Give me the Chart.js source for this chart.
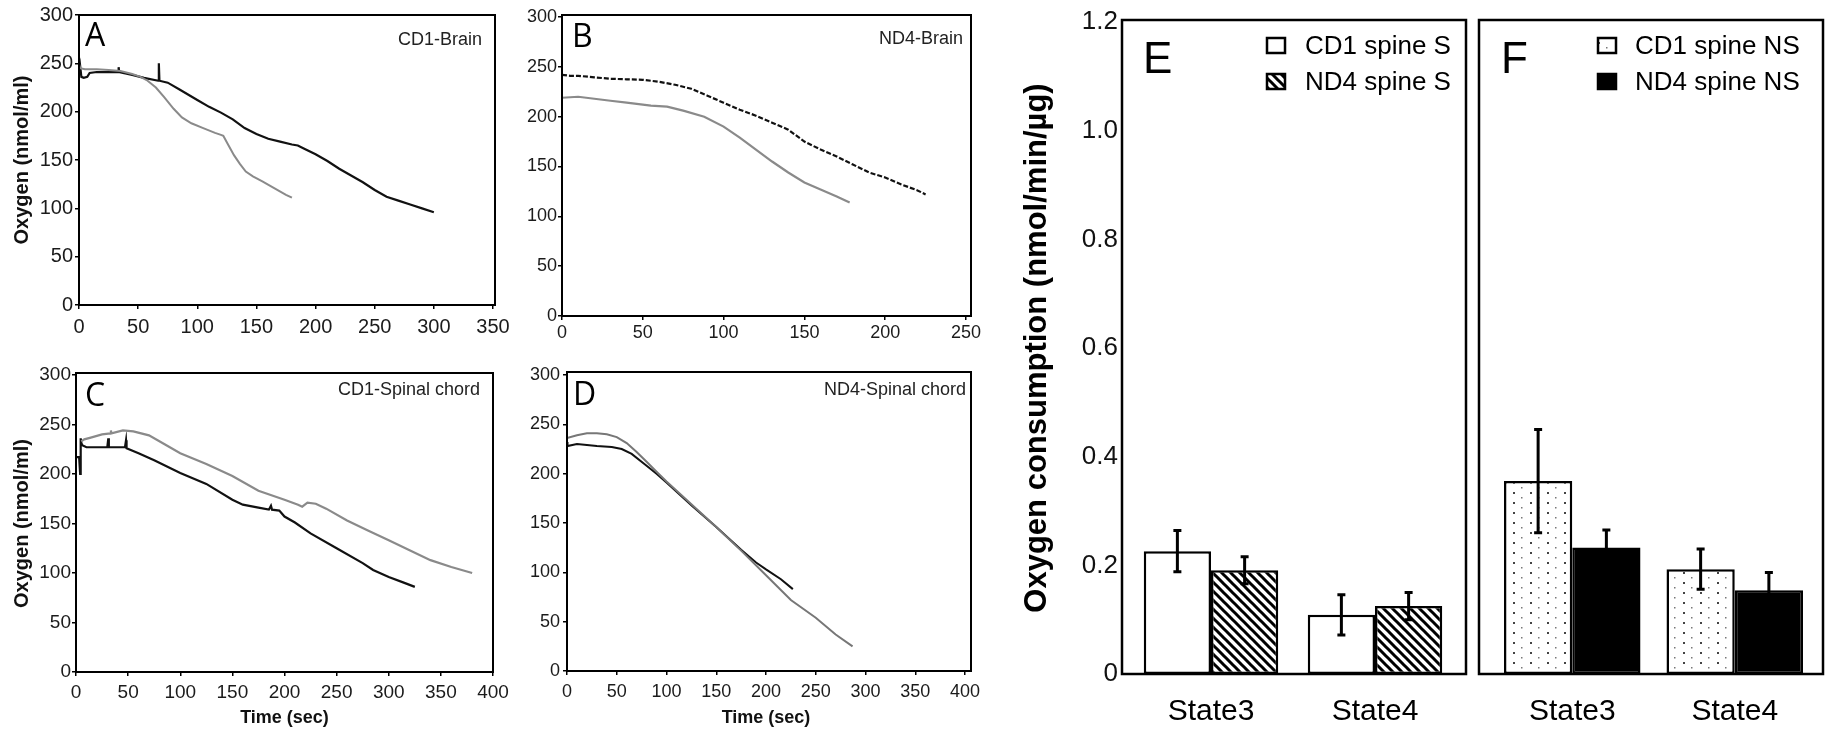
<!DOCTYPE html>
<html lang="en">
<head>
<meta charset="UTF-8">
<title>Oxygen consumption - brain and spinal cord mitochondria</title>
<script src="https://cdn.jsdelivr.net/npm/chart.js"></script>
<style>
  html, body { margin: 0; padding: 0; background: #fff; }
  body { width: 1832px; height: 733px; position: relative; overflow: hidden; }
  canvas { position: absolute; }
</style>
</head>
<body>
<canvas id="chartA" width="510" height="360" style="left:0;top:0"></canvas>
<canvas id="chartB" width="490" height="360" style="left:510px;top:0"></canvas>
<canvas id="chartC" width="510" height="373" style="left:0;top:360px"></canvas>
<canvas id="chartD" width="490" height="373" style="left:510px;top:360px"></canvas>
<canvas id="chartE" width="475" height="733" style="left:1000px;top:0"></canvas>
<canvas id="chartF" width="357" height="733" style="left:1475px;top:0"></canvas>

<script>
// ---- traces (time in sec, oxygen in nmol/ml) ----
const aBlackT = [0, 1, 2, 4, 7, 9, 15, 25, 33, 33.5, 34, 45, 55, 67, 67.5, 68, 75, 85, 100, 110, 120, 130, 140, 150, 160, 170, 180, 185, 190, 200, 210, 220, 230, 240, 250, 260, 270, 280, 290, 300];
const aBlackV = [238, 247, 236, 235, 236, 240, 241, 241, 241, 246, 241, 238, 235, 232, 250, 232, 230, 223, 212, 205, 199, 192, 183, 177, 172, 169, 166, 165, 162, 156, 149, 141, 134, 127, 119, 112, 108, 104, 100, 96];
const aGrayT = [0, 1, 5, 15, 25, 35, 45, 52, 58, 65, 72, 80, 87, 95, 105, 115, 120, 122, 126, 131, 136, 141, 147, 155, 165, 175, 180];
const aGrayV = [249, 245, 244, 244, 243, 242, 239, 236, 232, 225, 215, 203, 194, 188, 183, 178, 176, 175, 166, 155, 146, 138, 133, 128, 121, 114, 111];

const bBlackT = [0, 5, 10, 20, 30, 40, 50, 60, 70, 80, 90, 100, 110, 120, 130, 140, 150, 160, 170, 180, 190, 200, 210, 220, 225];
const bBlackV = [242, 241, 241, 239.5, 238, 237.5, 237, 235, 232, 228, 221, 214, 207, 201, 194, 187, 175, 167, 160, 152, 144, 139, 132, 126, 122];
const bGrayT = [0, 10, 20, 30, 40, 55, 65, 75, 88, 100, 110, 120, 130, 140, 150, 160, 170, 178];
const bGrayV = [219, 220, 218, 216, 214, 211, 210, 206, 200, 190, 179, 167, 155, 144, 134, 127, 120, 114];

const cGrayT = [5, 8, 15, 25, 33, 33.5, 34, 45, 55, 70, 85, 100, 125, 150, 175, 200, 213, 217, 222, 230, 240, 260, 280, 300, 320, 340, 360, 380];
const cGrayV = [233, 235, 237, 240, 241, 244, 241, 244, 243, 239, 230, 221, 210, 198, 183, 174, 169, 167, 171, 170, 165, 153, 143, 133, 123, 113, 106, 100];
const cBlackT = [0, 3, 4, 4.5, 5, 6, 10, 20, 30, 31, 31.5, 47, 48, 48.5, 60, 75, 100, 125, 150, 160, 175, 185, 187, 188, 195, 200, 210, 225, 250, 275, 285, 300, 315, 325];
const cBlackV = [217, 217, 200, 236, 232, 229, 227, 227, 227, 236, 227, 227, 234, 226, 221, 214, 201, 190, 174, 169, 166, 164, 168, 164, 163, 157, 151, 140, 125, 110, 103, 96, 90, 86];

const dGrayT = [0, 10, 20, 30, 40, 50, 60, 70, 80, 90, 100, 125, 150, 175, 200, 225, 250, 270, 287];
const dGrayV = [236, 239, 241, 241, 240, 237, 231, 222, 212, 202, 192, 169, 146, 122, 97, 72, 54, 37, 25];
const dBlackT = [0, 0.5, 10, 20, 30, 45, 55, 65, 80, 90, 100, 125, 150, 175, 190, 200, 215, 227];
const dBlackV = [232, 228, 230, 229, 228, 227, 225, 220, 208, 200, 191, 168, 146, 123, 110, 103, 93, 83];

const oxygenTicks = [0, 50, 100, 150, 200, 250, 300];

// ---- bar panels (nmol/min/ug) ----
const states = ['State3', 'State4'];
const cd1S = [0.226, 0.109];
const cd1SErr = [0.038, 0.037];
const nd4S = [0.191, 0.125];
const nd4SErr = [0.025, 0.025];
const cd1NS = [0.355, 0.193];
const cd1NSErr = [0.095, 0.037];
const nd4NS = [0.233, 0.154];
const nd4NSErr = [0.032, 0.033];

Chart.defaults.font.family = "'Liberation Sans', Arial, sans-serif";
Chart.defaults.color = '#111';

const pts = (t, v) => t.map((x, i) => ({ x: x, y: v[i] }));

// box round the plot area
const framePlugin = {
  id: 'frame',
  afterDraw(chart, args, o) {
    const { ctx, chartArea: a } = chart;
    const e = o.expand || [0, 0, 0];   // left, right, top
    ctx.save();
    ctx.strokeStyle = '#000';
    ctx.lineWidth = o.width || 2;
    ctx.strokeRect(a.left - e[0], a.top - e[2], a.right - a.left + e[0] + e[1], a.bottom - a.top + e[2]);
    ctx.restore();
  }
};

// panel letter and panel name
const panelText = {
  id: 'panelText',
  afterDraw(chart, args, o) {
    const { ctx, chartArea: a } = chart;
    ctx.save();
    ctx.textBaseline = 'middle';
    ctx.fillStyle = '#000';
    ctx.textAlign = 'left';
    ctx.font = o.letterFont;
    ctx.fillText(o.letter, a.left + o.letterAt[0], a.top + o.letterAt[1]);
    if (o.name) {
      ctx.fillStyle = '#222';
      ctx.textAlign = 'right';
      ctx.font = o.nameFont;
      ctx.fillText(o.name, a.right + o.nameAt[0], a.top + o.nameAt[1]);
    }
    ctx.restore();
  }
};

function linePanel(id, p) {
  const tickFont = { size: p.tickSize };
  return new Chart(document.getElementById(id), {
    type: 'scatter',
    data: {
      datasets: p.series.map(s => ({
        data: pts(s.t, s.v),
        showLine: true,
        borderColor: s.color,
        borderWidth: s.width,
        borderDash: s.dash || [],
        pointRadius: 0,
        tension: 0
      }))
    },
    options: {
      responsive: false,
      animation: false,
      events: [],
      layout: { padding: p.pad },
      plugins: {
        legend: { display: false },
        tooltip: { enabled: false },
        frame: { width: 2, expand: p.frame },
        panelText: {
          letter: p.letter, letterFont: "32px 'Open Sans', sans-serif", letterAt: p.letterAt,
          name: p.name, nameFont: "18px 'Liberation Sans', Arial, sans-serif", nameAt: p.nameAt
        }
      },
      scales: {
        x: {
          type: 'linear', min: 0, max: p.xMax,
          ticks: { stepSize: 50, font: tickFont, padding: p.xPad, color: '#1b1b1b', maxRotation: 0 },
          grid: { drawOnChartArea: false, tickLength: 4, color: '#000', lineWidth: 1.5 },
          border: { display: false },
          title: p.xTitle ? { display: true, text: 'Time (sec)', font: { size: 18, weight: 'bold' }, color: '#111', padding: { top: 0, bottom: 4 } } : { display: false },
          afterFit: s => { s.height = p.xH; s.paddingLeft = 0; s.paddingRight = 0; }
        },
        y: {
          min: 0, max: 300,
          afterBuildTicks: s => { s.ticks = oxygenTicks.map(v => ({ value: v })); },
          ticks: { font: tickFont, padding: p.yPad, color: '#1b1b1b' },
          grid: { drawOnChartArea: false, tickLength: 4, color: '#000', lineWidth: 1.5 },
          border: { display: false },
          title: p.yTitle ? { display: true, text: 'Oxygen (nmol/ml)', font: { size: 20, weight: 'bold' }, color: '#111', padding: { top: 10, bottom: 0 } } : { display: false },
          afterFit: s => { s.width = p.yW; s.paddingTop = 0; s.paddingBottom = 0; }
        }
      }
    },
    plugins: [framePlugin, panelText]
  });
}

const black = '#111';
const gray = '#8a8a8a';

linePanel('chartA', {
  series: [
    { t: aGrayT, v: aGrayV, color: gray, width: 2 },
    { t: aBlackT, v: aBlackV, color: black, width: 2.2 }
  ],
  xMax: 350, pad: { top: 15, right: 17, left: 0, bottom: 0 }, yW: 79, xH: 55,
  tickSize: 20, xPad: 6, yPad: 2, yTitle: true, xTitle: false, frame: [0, 2, 0],
  letter: 'A', letterAt: [6, 22], name: 'CD1-Brain', nameAt: [-11, 25]
});

linePanel('chartB', {
  series: [
    { t: bGrayT, v: bGrayV, color: gray, width: 2.2 },
    { t: bBlackT, v: bBlackV, color: black, width: 2.2, dash: [5, 2] }
  ],
  xMax: 250, pad: { top: 17, right: 34, left: 0, bottom: 0 }, yW: 52, xH: 44,
  tickSize: 18, xPad: 2, yPad: 1, yTitle: false, xTitle: false, frame: [0, 5, 2],
  letter: 'B', letterAt: [10, 21], name: 'ND4-Brain', nameAt: [-3, 22]
});

linePanel('chartC', {
  series: [
    { t: cGrayT, v: cGrayV, color: gray, width: 2.2 },
    { t: cBlackT, v: cBlackV, color: black, width: 2.2 }
  ],
  xMax: 400, pad: { top: 15, right: 17, left: 0, bottom: 0 }, yW: 76, xH: 61,
  tickSize: 19, xPad: 5, yPad: 1, yTitle: true, xTitle: true, frame: [0, 0, 2],
  letter: 'C', letterAt: [9, 22], name: 'CD1-Spinal chord', nameAt: [-13, 15]
});

linePanel('chartD', {
  series: [
    { t: dGrayT, v: dGrayV, color: '#777', width: 2 },
    { t: dBlackT, v: dBlackV, color: black, width: 2 }
  ],
  xMax: 400, pad: { top: 15, right: 35, left: 0, bottom: 0 }, yW: 57, xH: 62,
  tickSize: 18, xPad: 6, yPad: 3, yTitle: false, xTitle: true, frame: [0, 6, 3],
  letter: 'D', letterAt: [6, 21], name: 'ND4-Spinal chord', nameAt: [1, 15]
});

// ---- fills for the bar panels ----
function hatchPattern() {
  const s = 9;
  const c = document.createElement('canvas');
  c.width = s; c.height = s;
  const g = c.getContext('2d');
  g.fillStyle = '#fff';
  g.fillRect(0, 0, s, s);
  g.strokeStyle = '#000';
  g.lineWidth = 3;
  g.beginPath();
  for (const k of [-1, 0, 1]) {
    g.moveTo(k * s - 2, -2);
    g.lineTo(k * s + s + 2, s + 2);
  }
  g.stroke();
  return g.createPattern(c, 'repeat');
}

function dotPattern() {
  const c = document.createElement('canvas');
  c.width = 17; c.height = 10;
  const g = c.getContext('2d');
  g.fillStyle = '#fff';
  g.fillRect(0, 0, 17, 10);
  g.fillStyle = '#444';
  g.fillRect(4, 2, 2, 2);
  g.fillStyle = '#777';
  g.fillRect(12, 7, 1.5, 1.5);
  return g.createPattern(c, 'repeat');
}

const errorBars = {
  id: 'errorBars',
  afterDatasetsDraw(chart) {
    const { ctx } = chart;
    const y = chart.scales.y;
    chart.data.datasets.forEach((ds, i) => {
      chart.getDatasetMeta(i).data.forEach((bar, j) => {
        const top = y.getPixelForValue(ds.data[j] + ds.errors[j]);
        const bot = y.getPixelForValue(ds.data[j] - ds.errors[j]);
        ctx.save();
        ctx.strokeStyle = '#000';
        ctx.lineWidth = 3;
        ctx.beginPath();
        ctx.moveTo(bar.x, top); ctx.lineTo(bar.x, bot);
        ctx.moveTo(bar.x - 4, top); ctx.lineTo(bar.x + 4, top);
        ctx.moveTo(bar.x - 4, bot); ctx.lineTo(bar.x + 4, bot);
        ctx.stroke();
        ctx.restore();
      });
    });
  }
};

const boxLegend = {
  id: 'boxLegend',
  afterDraw(chart, args, o) {
    const { ctx, chartArea: a } = chart;
    ctx.save();
    ctx.font = "26px 'Liberation Sans', Arial, sans-serif";
    ctx.textBaseline = 'middle';
    ctx.textAlign = 'left';
    chart.data.datasets.forEach((ds, i) => {
      const cy = a.top + o.rows[i];
      const x = a.right + o.boxX;
      ctx.fillStyle = ds.backgroundColor;
      ctx.fillRect(x, cy - 8, 18, 15);
      ctx.strokeStyle = '#000';
      ctx.lineWidth = 2.5;
      ctx.strokeRect(x, cy - 8, 18, 15);
      ctx.fillStyle = '#000';
      ctx.fillText(ds.label, a.right + o.textX, cy + 1);
    });
    ctx.restore();
  }
};

function barPanel(id, p) {
  return new Chart(document.getElementById(id), {
    type: 'bar',
    data: {
      labels: states,
      datasets: p.series.map(s => ({
        label: s.label,
        data: s.v,
        errors: s.err,
        backgroundColor: s.fill,
        borderColor: '#000',
        borderWidth: 2.5,
        borderSkipped: false,
        categoryPercentage: p.catPct,
        barPercentage: 1
      }))
    },
    options: {
      responsive: false,
      animation: false,
      events: [],
      layout: { padding: p.pad },
      plugins: {
        legend: { display: false },
        tooltip: { enabled: false },
        frame: { width: 2.5, expand: p.frame },
        panelText: { letter: p.letter, letterFont: "44px 'Liberation Sans', Arial, sans-serif", letterAt: p.letterAt },
        boxLegend: { rows: [24, 60], boxX: p.boxX, textX: p.textX }
      },
      scales: {
        x: {
          ticks: { font: { size: 30 }, color: '#000', padding: 12 },
          grid: { display: false },
          border: { display: false },
          afterFit: s => { s.height = 59; s.paddingLeft = 0; s.paddingRight = 0; }
        },
        y: {
          display: p.showY,
          min: 0, max: 1.2,
          ticks: {
            stepSize: 0.2, font: { size: 26 }, color: '#111', padding: 11,
            callback: v => (v === 0 ? '0' : v.toFixed(1))
          },
          grid: { display: false, drawTicks: false },
          border: { display: false },
          title: {
            display: true, text: 'Oxygen consumption (nmol/min/µg)',
            font: { size: 31, weight: 'bold', lineHeight: 1.2 }, color: '#000',
            padding: { top: 19, bottom: 0 }
          },
          afterFit: s => { s.width = p.showY ? 129 : 0; s.paddingTop = 0; s.paddingBottom = 0; }
        }
      }
    },
    plugins: [errorBars, framePlugin, panelText, boxLegend]
  });
}

barPanel('chartE', {
  series: [
    { label: 'CD1 spine S', v: cd1S, err: cd1SErr, fill: '#fff' },
    { label: 'ND4 spine S', v: nd4S, err: nd4SErr, fill: hatchPattern() }
  ],
  showY: true, catPct: 0.82, pad: { top: 22, right: 18, left: 0, bottom: 0 },
  frame: [7, 9, 2], letter: 'E', letterAt: [14, 39], boxX: -190, textX: -152
});

barPanel('chartF', {
  series: [
    { label: 'CD1 spine NS', v: cd1NS, err: cd1NSErr, fill: dotPattern() },
    { label: 'ND4 spine NS', v: nd4NS, err: nd4NSErr, fill: '#000' }
  ],
  showY: false, catPct: 0.84, pad: { top: 22, right: 16, left: 16, bottom: 0 },
  frame: [12, 7, 2], letter: 'F', letterAt: [10, 39], boxX: -218, textX: -181
});
</script>
</body>
</html>
